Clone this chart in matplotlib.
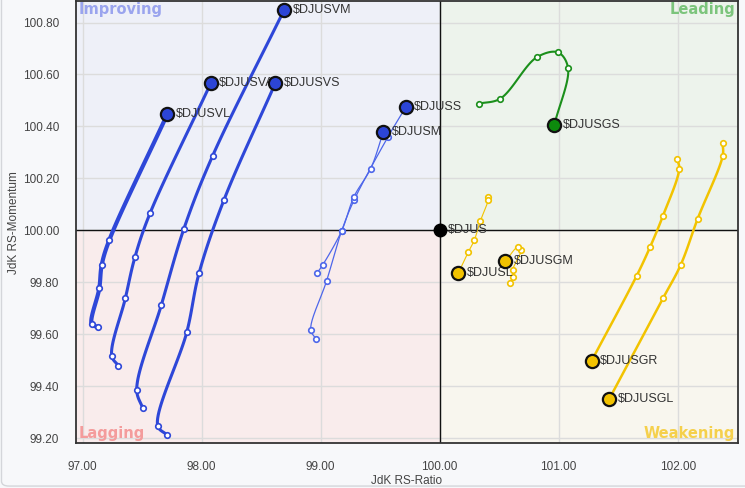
import matplotlib
matplotlib.use("Agg")
import matplotlib.pyplot as plt
import matplotlib.patches as mpatches
import numpy as np

# RRG tails, oldest point first, head (latest) last
names = ["$DJUSVL", "$DJUSVA", "$DJUSVM", "$DJUSVS", "$DJUSS", "$DJUSM",
         "$DJUSGS", "$DJUSL", "$DJUSGM", "$DJUSGR", "$DJUSGL"]

vl_x = [97.129, 97.076, 97.139, 97.160, 97.224, 97.711]
vl_y = [99.628, 99.638, 99.776, 99.867, 99.963, 100.447]
va_x = [97.299, 97.244, 97.358, 97.439, 97.566, 98.076]
va_y = [99.479, 99.517, 99.738, 99.897, 100.066, 100.566]
vm_x = [97.504, 97.454, 97.661, 97.851, 98.092, 98.692]
vm_y = [99.315, 99.387, 99.713, 100.007, 100.287, 100.848]
vs_x = [97.706, 97.630, 97.874, 97.977, 98.187, 98.618]
vs_y = [99.213, 99.248, 99.607, 99.834, 100.117, 100.566]
s_x = [98.958, 98.916, 99.050, 99.176, 99.280, 99.563, 99.717]
s_y = [99.583, 99.617, 99.806, 99.998, 100.116, 100.358, 100.476]
m_x = [98.966, 99.017, 99.176, 99.280, 99.420, 99.526]
m_y = [99.834, 99.867, 99.998, 100.130, 100.238, 100.378]
gs_x = [100.333, 100.509, 100.815, 100.994, 101.078, 100.963]
gs_y = [100.488, 100.507, 100.666, 100.685, 100.626, 100.406]
l_x = [100.408, 100.408, 100.341, 100.291, 100.240, 100.156]
l_y = [100.128, 100.117, 100.035, 99.963, 99.916, 99.835]
gm_x = [100.591, 100.613, 100.613, 100.683, 100.655, 100.551]
gm_y = [99.797, 99.822, 99.848, 99.925, 99.935, 99.880]
gr_x = [101.992, 102.013, 101.876, 101.767, 101.655, 101.277]
gr_y = [100.276, 100.238, 100.056, 99.935, 99.825, 99.498]
gl_x = [102.378, 102.378, 102.168, 102.025, 101.876, 101.425]
gl_y = [100.335, 100.287, 100.045, 99.867, 99.738, 99.351]

tails_x = [vl_x, va_x, vm_x, vs_x, s_x, m_x, gs_x, l_x, gm_x, gr_x, gl_x]
tails_y = [vl_y, va_y, vm_y, vs_y, s_y, m_y, gs_y, l_y, gm_y, gr_y, gl_y]

BLUE = "#2e47d8"
BLUE_THIN = "#4d66ea"
GREEN = "#1b8f1b"
YELLOW = "#f2c300"
line_cols = [BLUE, BLUE, BLUE, BLUE, BLUE_THIN, BLUE_THIN, GREEN, YELLOW, YELLOW, YELLOW, YELLOW]
head_cols = ["#2c45d6"] * 6 + ["#0d8a0d"] + ["#f2c200"] * 4
line_w = [3.0, 2.2, 2.2, 2.2, 0.9, 0.9, 1.5, 0.8, 0.8, 1.8, 1.8]

bench_x = [100.0]
bench_y = [100.0]


def smooth(xs, ys, n=24):
    # centripetal catmull-rom path through the points (drawing only)
    p = np.column_stack([xs, ys]) * np.array([1.0, 2.2])
    p = np.vstack([2 * p[0] - p[1], p, 2 * p[-1] - p[-2]])
    out = []
    for i in range(1, len(p) - 2):
        p0, p1, p2, p3 = p[i - 1], p[i], p[i + 1], p[i + 2]
        t0 = 0.0
        t1 = t0 + max(np.linalg.norm(p1 - p0), 1e-6) ** 0.5
        t2 = t1 + max(np.linalg.norm(p2 - p1), 1e-6) ** 0.5
        t3 = t2 + max(np.linalg.norm(p3 - p2), 1e-6) ** 0.5
        t = np.linspace(t1, t2, n)[:, None]
        a1 = (t1 - t) / (t1 - t0) * p0 + (t - t0) / (t1 - t0) * p1
        a2 = (t2 - t) / (t2 - t1) * p1 + (t - t1) / (t2 - t1) * p2
        a3 = (t3 - t) / (t3 - t2) * p2 + (t - t2) / (t3 - t2) * p3
        b1 = (t2 - t) / (t2 - t0) * a1 + (t - t0) / (t2 - t0) * a2
        b2 = (t3 - t) / (t3 - t1) * a2 + (t - t1) / (t3 - t1) * a3
        out.append((t2 - t) / (t2 - t1) * b1 + (t - t1) / (t2 - t1) * b2)
    out = np.vstack(out) / np.array([1.0, 2.2])
    return out[:, 0], out[:, 1]


fig = plt.figure(figsize=(7.45, 4.88), dpi=100, facecolor="#f7f8fa")
fig.patches.append(mpatches.FancyBboxPatch((0.002, 0.004), 1.2, 1.2, boxstyle="round,pad=0,rounding_size=0.01",
                                           transform=fig.transFigure, facecolor="none",
                                           edgecolor="#d4d6da", linewidth=1))
ax = fig.add_axes([0.1016, 0.0916, 0.8886, 0.9064])

x0, x1 = 96.941, 102.504
y0, y1 = 99.18, 100.883
ax.set_xlim(x0, x1)
ax.set_ylim(y0, y1)

# quadrant backgrounds
ax.add_patch(mpatches.Rectangle((x0, 100), 100 - x0, y1 - 100, facecolor="#eef0f8", edgecolor="none", zorder=0))
ax.add_patch(mpatches.Rectangle((100, 100), x1 - 100, y1 - 100, facecolor="#edf3ec", edgecolor="none", zorder=0))
ax.add_patch(mpatches.Rectangle((x0, y0), 100 - x0, 100 - y0, facecolor="#f9ecec", edgecolor="none", zorder=0))
ax.add_patch(mpatches.Rectangle((100, y0), x1 - 100, 100 - y0, facecolor="#f8f6ee", edgecolor="none", zorder=0))

ax.set_xticks([97, 98, 99, 100, 101, 102])
ax.set_yticks(np.arange(99.2, 100.81, 0.2))
ax.xaxis.set_major_formatter(matplotlib.ticker.FormatStrFormatter("%.2f"))
ax.yaxis.set_major_formatter(matplotlib.ticker.FormatStrFormatter("%.2f"))
ax.grid(True, color="#dcdcdc", linewidth=1, zorder=1)
ax.set_axisbelow(True)
ax.tick_params(axis="x", length=0, labelsize=8.5, labelcolor="#444444", pad=13)
ax.tick_params(axis="y", length=0, labelsize=8.5, labelcolor="#444444", pad=12)
for lab in ax.get_xticklabels() + ax.get_yticklabels():
    lab.set_family("Liberation Sans")
for sp in ax.spines.values():
    sp.set_color("#333333")
    sp.set_linewidth(1.3)

ax.axvline(100, color="#111111", linewidth=1, zorder=2)
ax.axhline(100, color="#111111", linewidth=1, zorder=2)

ax.set_xlabel("JdK RS-Ratio", fontsize=8.5, color="#444444", family="Liberation Sans", labelpad=1)
ax.set_ylabel("JdK RS-Momentum", fontsize=8.5, color="#444444", family="Liberation Sans", labelpad=2)

qkw = dict(fontsize=10.5, fontweight="bold", family="DejaVu Sans", zorder=2)
ax.text(0.004, 0.997, "Improving", transform=ax.transAxes, ha="left", va="top", color="#9aa4ee", **qkw)
ax.text(0.996, 0.997, "Leading", transform=ax.transAxes, ha="right", va="top", color="#7cc47c", **qkw)
ax.text(0.004, 0.006, "Lagging", transform=ax.transAxes, ha="left", va="bottom", color="#f49c9c", **qkw)
ax.text(0.996, 0.006, "Weakening", transform=ax.transAxes, ha="right", va="bottom", color="#f5d04c", **qkw)

for name, xs, ys, lc, hc, lw in zip(names, tails_x, tails_y, line_cols, head_cols, line_w):
    sx, sy = smooth(xs, ys)
    ax.plot(sx, sy, color=lc, linewidth=lw, solid_capstyle="round", zorder=3)
    ax.plot(xs[:-1], ys[:-1], "o", markersize=4, markerfacecolor="white",
            markeredgecolor=lc, markeredgewidth=1.2, linestyle="none", zorder=4)
    ax.annotate(name, (xs[-1], ys[-1]), xytext=(6, 0), textcoords="offset points",
                ha="left", va="center", fontsize=9, color="#333333", family="Liberation Sans", zorder=5)
    ax.plot(xs[-1], ys[-1], "o", markersize=9.5, markerfacecolor=hc,
            markeredgecolor="#111111", markeredgewidth=1.6, zorder=6)

ax.plot(bench_x, bench_y, "o", markersize=9, color="#000000", zorder=6)
ax.annotate("$DJUS", (bench_x[0], bench_y[0]), xytext=(6, 0), textcoords="offset points",
            ha="left", va="center", fontsize=9, color="#333333", family="Liberation Sans", zorder=5)

fig.savefig("out.png", dpi=100, facecolor=fig.get_facecolor())
